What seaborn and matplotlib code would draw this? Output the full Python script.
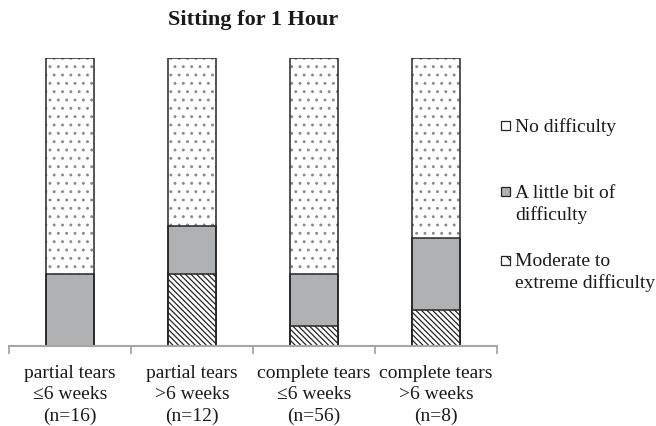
import matplotlib
matplotlib.use("Agg")
import matplotlib.pyplot as plt
import matplotlib.patches as mpatches
import pandas as pd
import seaborn as sns

# percent of patients per answer
categories = ["partial tears\n≤6 weeks\n(n=16)", "partial tears\n>6 weeks\n(n=12)",
              "complete tears\n≤6 weeks\n(n=56)", "complete tears\n>6 weeks\n(n=8)"]
no_difficulty = [75.0, 58.3, 75.0, 62.5]
little_bit = [25.0, 16.7, 17.9, 25.0]
moderate_extreme = [0.0, 25.0, 7.1, 12.5]
legend_labels = ["No difficulty", "A little bit of\ndifficulty", "Moderate to\nextreme difficulty"]

sns.set_theme(style="white")
plt.rcParams['font.family'] = ['Liberation Serif', 'DejaVu Serif']
plt.rcParams['hatch.linewidth'] = 0.9

df = pd.DataFrame({"group": categories, "none": no_difficulty,
                   "little": little_bit, "moderate": moderate_extreme})
df["mid"] = df["little"] + df["moderate"]
df["total"] = df["none"] + df["mid"]

fig = plt.figure(figsize=(6.56, 4.26), dpi=100)
ax = fig.add_axes([9 / 656, 1 - 346 / 426, 488 / 656, 288 / 426])

edge = "#262626"
grey = "#b0b1b3"
# stacked by drawing cumulative bars on top of each other
sns.barplot(data=df, x="group", y="total", color="white", saturation=1, width=0.4,
            edgecolor="#8a8a8a", linewidth=0, hatch="..", errorbar=None, ax=ax)
sns.barplot(data=df, x="group", y="mid", color=grey, saturation=1, width=0.4,
            edgecolor=edge, linewidth=1.1, errorbar=None, ax=ax)
sns.barplot(data=df, x="group", y="moderate", color="white", saturation=1, width=0.4,
            edgecolor=edge, linewidth=1.1, hatch="\\" * 6, errorbar=None, ax=ax)
sns.barplot(data=df, x="group", y="total", color=edge, fill=False, width=0.4,
            linewidth=1.1, errorbar=None, ax=ax)

ax.set_ylim(0, 100)
ax.set_xlim(-0.5, 3.5)
ax.set_xlabel("")
ax.set_ylabel("")
ax.set_yticks([])
for s in ["left", "top", "right"]:
    ax.spines[s].set_visible(False)
ax.spines["bottom"].set_color("#a6a6a6")
ax.spines["bottom"].set_linewidth(1.5)
ax.set_xticks([-0.5, 0.5, 1.5, 2.5, 3.5], minor=True)
ax.tick_params(axis="x", which="minor", bottom=True, length=6, width=1.3,
               color="#a6a6a6", direction="out")
ax.tick_params(axis="x", which="major", bottom=False, length=0, pad=14, labelsize=14,
               labelcolor="#1a1a1a")
for t in ax.get_xticklabels():
    t.set_linespacing(1.3)

fig.text(253 / 656, 1 - 20 / 426, "Sitting for 1 Hour", fontsize=16, fontweight="bold",
         ha="center", va="center", color="#1a1a1a")

# legend drawn by hand, spacing in the reference is not even
styles = [dict(facecolor="white", hatch=None), dict(facecolor=grey, hatch=None),
          dict(facecolor="white", hatch="\\\\")]
line_y = [125, 192, 260]
for lab, st, yy in zip(legend_labels, styles, line_y):
    fig.add_artist(mpatches.Rectangle((501 / 656, 1 - (yy + 4.5) / 426), 9 / 656, 9 / 426,
                                      transform=fig.transFigure, edgecolor=edge,
                                      linewidth=0.9, **st))
    fig.text(515 / 656, 1 - (yy - 7) / 426, lab, fontsize=14, ha="left", va="top",
             color="#1a1a1a", linespacing=1.3)

fig.savefig("out.png", dpi=100)
